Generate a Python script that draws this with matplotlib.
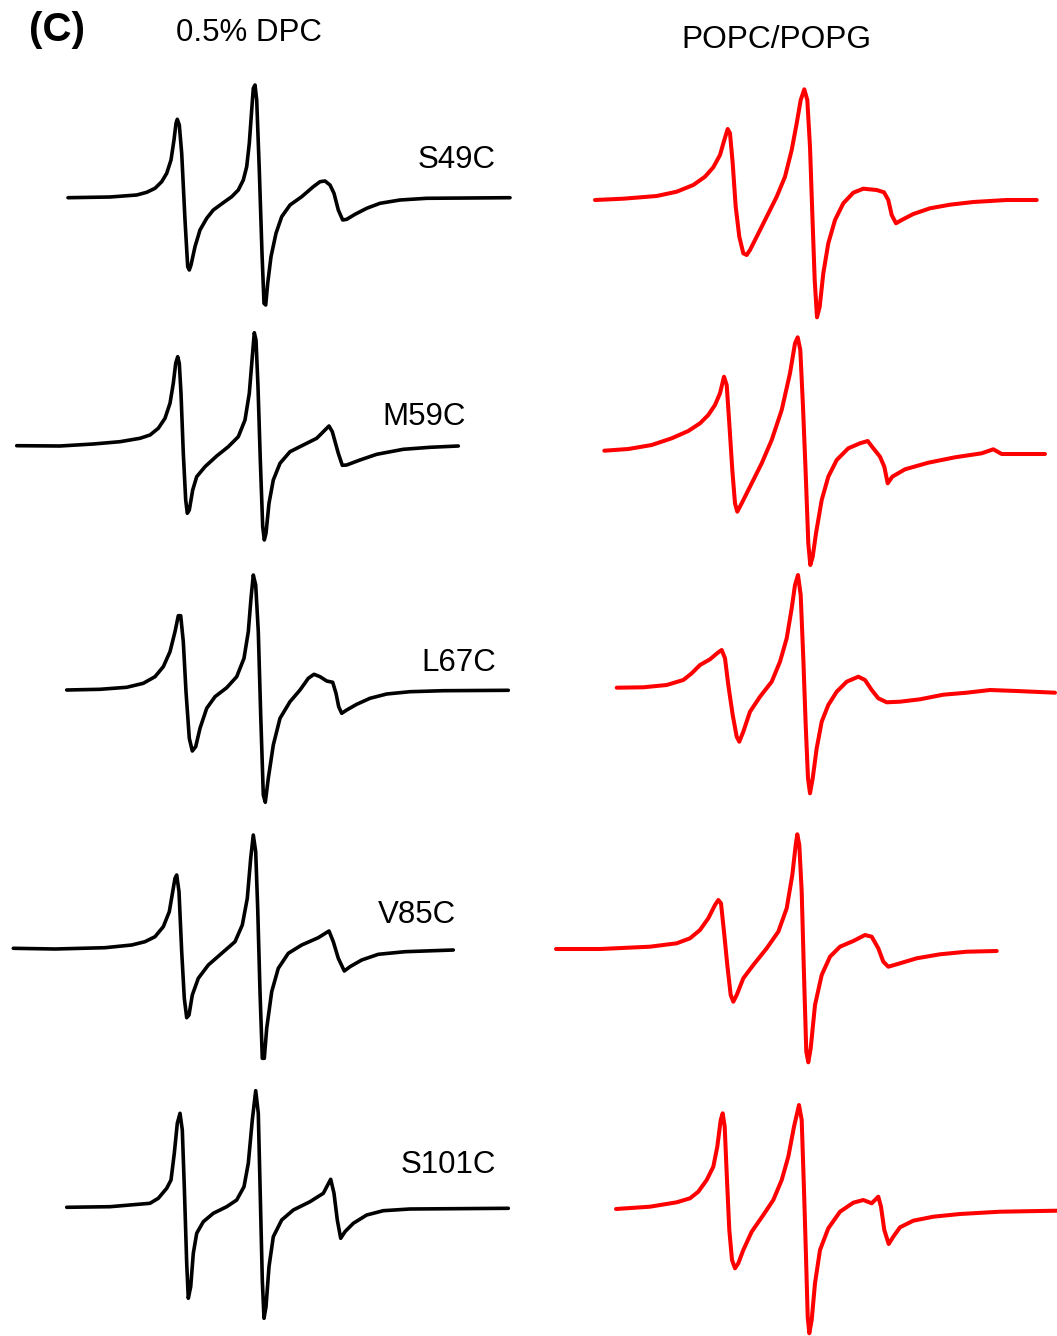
import matplotlib
matplotlib.use("Agg")
import matplotlib.pyplot as plt

# ---- header / labels ----
panel_label = "(C)"
column_titles = ["0.5% DPC", "POPC/POPG"]
mutants = ["S49C", "M59C", "L67C", "V85C", "S101C"]

# ---- traces (x = field position, y = signal, image units) ----
s49c_dpc_x = [68, 110, 136.7, 146.7, 155, 161.7, 166.7, 171, 174, 176, 177.3, 179.3, 181.7, 185, 187.7, 189.3, 191, 195, 200, 206.7, 213.3, 223.3, 231.7, 238.3, 243.3, 246.7, 249.3, 251.7, 253.3, 255, 256.7, 259.3, 262, 264, 265.7, 267.7, 271, 276, 281.7, 290, 301.7, 313.3, 320, 325, 330, 334, 338.3, 342.7, 346.7, 355, 366.7, 380, 400, 426.7, 510]
s49c_dpc_y = [197.7, 197, 195, 192.3, 188.3, 181.7, 173.3, 160, 140, 123.3, 119.3, 125, 153.3, 220, 266.7, 270, 265, 246.7, 230, 218.3, 210, 202.7, 196.7, 190, 180, 166.7, 143.3, 110, 88.3, 85, 100, 170, 253.3, 303.3, 305, 283.3, 256.7, 233.3, 216.7, 205, 196.7, 186.7, 181.7, 181, 185, 193.3, 210, 220, 219.3, 214.3, 208.3, 203.3, 200, 198.3, 197.7]

s49c_popc_x = [595, 623.3, 656.7, 676.7, 693.3, 705, 713.3, 720, 724.3, 727.7, 730, 732.7, 735.7, 739.3, 743.3, 746.7, 750, 756.7, 766.7, 776.7, 785, 791.7, 796.7, 800.7, 804.3, 807.3, 810, 812.3, 814.7, 817, 819.7, 823.3, 828.3, 835, 843.3, 853.3, 863.3, 876.7, 884, 888.3, 891.7, 896, 901.7, 913.3, 930, 950, 973.3, 1006.7, 1036.7]
s49c_popc_y = [200, 198.7, 196, 191.7, 185, 176.7, 167.3, 155, 140, 129, 133.3, 163.3, 206.7, 236.7, 253.3, 255, 250, 236.7, 216.7, 196.7, 176.7, 150, 123.3, 100, 89.3, 100, 146.7, 213.3, 280, 317.3, 306.7, 273.3, 243.3, 220, 203.3, 192.7, 188.7, 190, 192.3, 200, 215, 223.3, 220, 214, 208.3, 204.7, 202, 200, 200]

m59c_dpc_x = [16.7, 60, 93.3, 120, 140, 150, 158.3, 165, 170, 173.3, 175.7, 177.7, 179.3, 181, 183.3, 185.7, 187.3, 189.3, 192.7, 196.7, 205, 216.7, 228.3, 238.3, 245, 249.3, 252.3, 254.3, 256, 258, 260.3, 262.7, 264.3, 266, 269, 273.3, 280, 290, 303.3, 316.7, 325, 329, 332.3, 338.3, 342.3, 346.7, 360, 376.7, 403.3, 430, 458.3]
m59c_dpc_y = [445.7, 446, 444, 441.7, 438.3, 435, 428.3, 418.3, 403.3, 383.3, 363.3, 356.7, 363.3, 393.3, 453.3, 500, 513.3, 510, 490, 476.7, 466.7, 456, 446.7, 436.7, 420, 393.3, 356.7, 332.7, 340, 386.7, 460, 526.7, 540, 533.3, 503.3, 480, 463.3, 451.7, 445, 438.3, 430, 426, 431.7, 453.3, 465.3, 465, 460, 454.3, 449.3, 447.3, 446]

m59c_popc_x = [604.3, 628.3, 651.7, 671.7, 688.3, 700, 708.3, 715, 720, 724, 726.7, 729.3, 732.3, 735, 737.3, 741.7, 751.7, 761.7, 771.7, 781.7, 790, 795, 797.7, 800.3, 803, 805.7, 808.3, 810.3, 812.7, 816, 821.7, 828.3, 836.7, 848.3, 860, 867.7, 873.3, 880, 884.3, 887.7, 892.3, 905, 928.3, 955, 981.7, 993.3, 1001.7, 1045]
m59c_popc_y = [450.7, 449, 445, 438.3, 431, 423.3, 415, 405, 393.3, 376.7, 385, 423.3, 470, 503.3, 511.7, 503.3, 483.3, 463.3, 440, 410, 373.3, 343.3, 337.3, 350, 406.7, 473.3, 543.3, 565, 556.7, 533.3, 500, 476.7, 460, 448.3, 443.3, 441, 448.3, 456.7, 466.7, 483.3, 476.7, 469.3, 462.7, 457.3, 453.3, 449.3, 454, 454]

l67c_dpc_x = [66.7, 100, 126.7, 143.3, 155, 163.3, 170, 175, 178.3, 180.7, 183.3, 186, 189.3, 192.3, 195.7, 200, 206.7, 215, 226.7, 236.7, 244, 248.3, 251, 253.3, 255.7, 258.3, 260.7, 263.3, 265.3, 268.3, 273.3, 280, 290, 300, 308.3, 314, 320, 326.7, 332.7, 336, 338.7, 341.7, 346.7, 356.7, 370, 386.7, 410, 443.3, 508.3]
l67c_dpc_y = [690, 689.3, 687.3, 683.3, 676.7, 666.7, 651.7, 631.7, 615.7, 615.7, 641.7, 691.7, 738.3, 751, 746.7, 728.3, 708.3, 696.7, 687.7, 676.7, 658.3, 631.7, 598.3, 575, 585, 631.7, 715, 795, 802.3, 778.3, 745, 718.3, 701.7, 690, 678.3, 674.3, 676.7, 681, 682.3, 693.3, 706.7, 713.3, 710, 704.3, 698.3, 694, 691.7, 690.7, 690.3]

l67c_popc_x = [616.7, 643.3, 666.7, 683.3, 691.7, 700, 710, 718.3, 721.7, 725, 728.3, 732.7, 736.7, 739.3, 743.3, 750, 760, 771.7, 780, 786.7, 791.7, 795, 798, 800.7, 803.3, 805.7, 808, 810, 812.7, 816.7, 821.7, 828.3, 836.7, 846.7, 858.3, 865, 871.7, 878.3, 886.7, 900, 920, 943.3, 966.7, 990, 1016.7, 1055]
l67c_popc_y = [687.7, 687.3, 685, 680, 673.3, 665, 659.3, 652.3, 650, 658.3, 685, 715, 736.7, 741.7, 731.7, 711.7, 696.7, 681.7, 661.7, 638.3, 608.3, 585, 575, 595, 658.3, 725, 778.3, 793.3, 778.3, 748.3, 721.7, 705, 691.7, 681.7, 676.7, 680, 690, 698.3, 702.3, 701.7, 699.3, 694.7, 692.7, 690, 691, 692.7]

v85c_dpc_x = [13.3, 55, 105, 131.7, 145, 155, 163.3, 169.3, 172.7, 175, 176.7, 179, 181.7, 184.3, 186.7, 189, 192.3, 198.3, 208.3, 221.7, 235, 242.3, 247.3, 250.7, 253.3, 255.7, 257.7, 260, 262.3, 264.3, 266.7, 271.7, 278.3, 288.3, 301.7, 318.3, 329, 333.3, 338.3, 344.3, 350, 361.7, 378.3, 405, 453.3]
v85c_dpc_y = [948.3, 949, 947.7, 945, 941.7, 936.7, 926.7, 911.7, 891.7, 878.3, 875, 891.7, 951.7, 998.3, 1017.7, 1015, 995, 978.3, 965, 953.3, 941.7, 925, 898.3, 858.3, 835, 851.7, 908.3, 991.7, 1058.3, 1058.3, 1028.3, 991.7, 968.3, 953.3, 945, 937.7, 931, 941.7, 958.3, 971, 966.7, 960, 954.3, 951.7, 950]

v85c_popc_x = [556, 600, 650, 676.7, 690, 700, 708.3, 715, 718.3, 721, 724, 727.3, 730.7, 733.3, 736.7, 743.3, 753.3, 766.7, 778.3, 786.7, 792.3, 795.7, 797.3, 799.3, 801.7, 804, 806.3, 808.3, 810.7, 815, 821.7, 830, 840, 853.3, 865, 871.7, 878.3, 883.3, 888.3, 896.7, 916.7, 940, 966.7, 996.7]
v85c_popc_y = [949, 949, 946.7, 943.3, 938.3, 930, 918.3, 905, 900, 903.3, 931.7, 965, 995, 1001.7, 995, 978.3, 965, 948.3, 931.7, 908.3, 875, 845, 834.3, 845, 891.7, 975, 1051.7, 1062.3, 1048.3, 1005, 975, 956.7, 946.7, 941, 935, 936.7, 948.3, 961.7, 966.7, 964.3, 958.3, 954.3, 951.7, 951]

s101c_dpc_x = [66.7, 110, 150, 158.3, 166.7, 171, 174.3, 177.3, 180, 182.3, 184.3, 186.7, 188.3, 190.7, 193.3, 196.7, 203.3, 213.3, 226.7, 236.7, 244, 248.3, 252.3, 255.7, 258.3, 260.3, 262.3, 264, 266, 269, 273.3, 281.7, 293.3, 310, 323.3, 330.7, 334, 337.3, 340.7, 345, 353.3, 366.7, 383.3, 410, 508.3]
s101c_dpc_y = [1207.3, 1206.7, 1203.3, 1198.3, 1188.3, 1180, 1153.3, 1123.3, 1113.3, 1130, 1186.7, 1263.3, 1298.3, 1286.7, 1253.3, 1233.3, 1221.7, 1213.3, 1206.7, 1200, 1186.7, 1163.3, 1120, 1090.7, 1113.3, 1196.7, 1280, 1318.3, 1306.7, 1266.7, 1236.7, 1220, 1210, 1201.7, 1193.3, 1179.3, 1193.3, 1220, 1238.3, 1231.7, 1223.3, 1215, 1210.7, 1209, 1208.3]

s101c_popc_x = [616, 650, 676.7, 690, 698.3, 706.7, 713.3, 717.3, 720.7, 722.7, 724.7, 726.7, 729.3, 732, 735, 738.3, 743.3, 751.7, 763.3, 773.3, 781.7, 788.3, 794, 799, 801.7, 804, 806, 807.7, 809.3, 811.7, 815, 820, 828.3, 840, 853.3, 863.3, 871.7, 878.3, 881, 884.3, 888.7, 893.3, 900, 913.3, 933.3, 960, 1000, 1056.7]
s101c_popc_y = [1209, 1206.7, 1202.3, 1198.3, 1191.7, 1180, 1166.7, 1146.7, 1120, 1113.3, 1126.7, 1173.3, 1230, 1260, 1268.3, 1263.3, 1250, 1231.7, 1215, 1200, 1180, 1156.7, 1126.7, 1105, 1120, 1190, 1256.7, 1316.7, 1333.3, 1320, 1283.3, 1250, 1228.3, 1211.7, 1202.7, 1200, 1203.3, 1196.7, 1206.7, 1230, 1244, 1236.7, 1227.3, 1220.7, 1216.7, 1214, 1211.7, 1210.7]

dpc_traces = [(s49c_dpc_x, s49c_dpc_y), (m59c_dpc_x, m59c_dpc_y), (l67c_dpc_x, l67c_dpc_y),
              (v85c_dpc_x, v85c_dpc_y), (s101c_dpc_x, s101c_dpc_y)]
popc_traces = [(s49c_popc_x, s49c_popc_y), (m59c_popc_x, m59c_popc_y), (l67c_popc_x, l67c_popc_y),
               (v85c_popc_x, v85c_popc_y), (s101c_popc_x, s101c_popc_y)]

# label anchor positions (right edge, vertical centre)
label_pos = [(496, 160), (466, 417), (496, 663), (456, 915), (496, 1165)]

W, H = 1057, 1336
fig = plt.figure(figsize=(W / 100, H / 100), dpi=100)
ax = fig.add_axes([0, 0, 1, 1])
ax.set_xlim(0, W)
ax.set_ylim(H, 0)
ax.axis("off")

font = "Liberation Sans"
for x, y in dpc_traces:
    ax.plot(x, y, color="black", lw=2.6, solid_joinstyle="round", solid_capstyle="round")
for x, y in popc_traces:
    ax.plot(x, y, color="#ff0000", lw=2.9, solid_joinstyle="round", solid_capstyle="round")

for name, (lx, ly) in zip(mutants, label_pos):
    ax.text(lx, ly, name, ha="right", va="center", fontsize=22.5, family=font, color="black")

ax.text(29, 30, panel_label, ha="left", va="center", fontsize=29, fontweight="bold", family=font)
ax.text(176, 33, column_titles[0], ha="left", va="center", fontsize=22.5, family=font)
ax.text(681, 40, column_titles[1], ha="left", va="center", fontsize=22.8, family=font)

fig.savefig("out.png", dpi=100)
